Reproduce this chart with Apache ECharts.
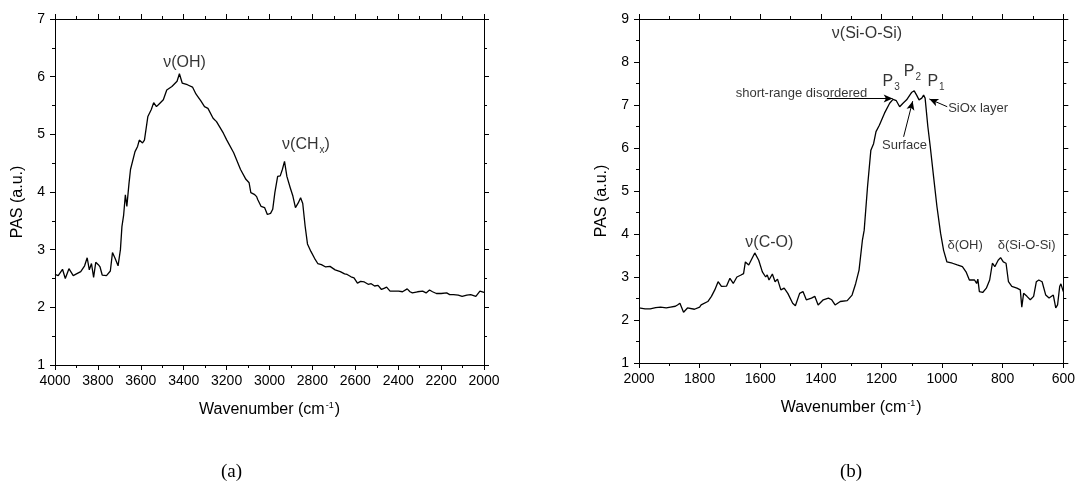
<!DOCTYPE html>
<html>
<head>
<meta charset="utf-8">
<script src="https://cdn.jsdelivr.net/npm/echarts/dist/echarts.min.js"></script>
<style>
html,body{margin:0;padding:0;background:#fff;}
#c{width:1078px;height:485px;}
</style>
</head>
<body>
<div id="c"></div>
<script>
// ---- Panel (a): 4000-2000 cm-1 ----
const wnA = [4000,3985,3965,3952,3935,3915,3900,3880,3862,3850,3840,3830,3820,3810,3798,3790,3780,3760,3742,3732,3720,3706,3695,3688,3680,3672,3665,3655,3648,3640,3627,3615,3607,3592,3583,3567,3551,3540,3527,3511,3495,3479,3455,3431,3420,3407,3383,3359,3343,3335,3320,3303,3287,3263,3247,3215,3199,3167,3135,3110,3095,3087,3071,3060,3055,3039,3023,3010,2995,2985,2975,2962,2950,2940,2930,2919,2903,2891,2879,2866,2855,2845,2834,2823,2807,2790,2775,2758,2738,2718,2694,2670,2650,2638,2620,2606,2590,2575,2558,2540,2526,2510,2494,2478,2466,2454,2438,2420,2398,2380,2358,2345,2334,2310,2286,2270,2254,2240,2222,2200,2174,2160,2142,2120,2102,2080,2062,2038,2019,2000];
const pasA = [2.57,2.55,2.66,2.50,2.67,2.55,2.58,2.62,2.72,2.86,2.65,2.76,2.52,2.78,2.74,2.70,2.56,2.55,2.63,2.95,2.85,2.72,3.00,3.40,3.60,3.95,3.75,4.15,4.39,4.36,4.70,4.79,4.90,4.85,4.90,5.31,5.43,5.55,5.48,5.54,5.60,5.77,5.83,5.92,6.05,5.89,5.86,5.82,5.70,5.66,5.58,5.48,5.45,5.28,5.22,5.02,4.90,4.68,4.39,4.22,4.16,3.99,3.96,3.92,3.87,3.75,3.73,3.61,3.63,3.70,3.99,4.27,4.28,4.39,4.53,4.27,4.07,3.93,3.73,3.81,3.90,3.80,3.41,3.10,2.97,2.85,2.76,2.74,2.70,2.71,2.65,2.62,2.58,2.57,2.53,2.51,2.42,2.45,2.44,2.40,2.41,2.37,2.38,2.31,2.33,2.35,2.28,2.28,2.28,2.27,2.32,2.27,2.25,2.27,2.28,2.25,2.30,2.27,2.24,2.24,2.25,2.22,2.22,2.21,2.19,2.21,2.22,2.19,2.28,2.26];

// ---- Panel (b): 2000-600 cm-1 ----
const wnB = [2000,1980,1963,1945,1929,1910,1896,1880,1873,1865,1853,1840,1817,1800,1795,1773,1761,1750,1739,1728,1711,1700,1689,1677,1665,1655,1649,1638,1628,1618,1605,1593,1582,1577,1571,1560,1551,1543,1532,1521,1509,1493,1484,1470,1459,1448,1431,1420,1409,1392,1375,1364,1353,1336,1313,1297,1285,1274,1263,1257,1246,1235,1226,1218,1207,1190,1173,1162,1151,1140,1129,1117,1101,1092,1084,1076,1067,1061,1056,1047,1039,1028,1017,1005,995,984,966,950,933,921,910,893,886,882,877,866,854,843,834,826,815,807,798,789,781,770,753,742,737,731,720,709,698,689,681,670,658,647,633,625,619,612,608,600];
const pasB = [2.28,2.26,2.26,2.29,2.30,2.28,2.30,2.32,2.35,2.39,2.18,2.28,2.25,2.30,2.35,2.43,2.55,2.70,2.89,2.78,2.79,2.97,2.85,3.00,3.04,3.08,3.35,3.28,3.42,3.56,3.39,3.12,3.00,3.05,2.93,3.07,2.89,2.95,2.70,2.74,2.62,2.39,2.33,2.62,2.66,2.47,2.51,2.55,2.35,2.47,2.51,2.47,2.35,2.43,2.45,2.58,2.85,3.16,3.85,4.09,5.10,5.95,6.10,6.38,6.53,6.81,7.04,7.13,7.10,6.96,7.04,7.12,7.29,7.33,7.23,7.12,7.16,7.23,7.16,6.50,6.03,5.33,4.64,4.02,3.62,3.35,3.32,3.28,3.24,3.12,2.93,2.93,2.85,2.95,2.66,2.64,2.74,2.93,3.32,3.24,3.39,3.45,3.35,3.32,2.89,2.78,2.74,2.70,2.30,2.62,2.55,2.47,2.55,2.89,2.93,2.89,2.58,2.51,2.58,2.28,2.35,2.78,2.84,2.66];

// ---- Axis ranges / ticks ----
const xRangeA = [2000, 4000];
const xRangeB = [600, 2000];
const yRangeA = [1, 7];
const yRangeB = [1, 9];
const xStep = 200;
const yStep = 1;

// ---- Annotations: [text, wavenumber, PAS, size] ----
const notesA = [
  ['ν(OH)', 3396, 6.24, 'big'],
  ['ν(CH{sub|x})', 2830, 4.83, 'big']
];
const notesB = [
  ['ν(Si-O-Si)', 1248, 8.67, 'big'],
  ['P{sub|3}', 1168, 7.55, 'big'],
  ['P{sub|2}', 1098, 7.78, 'big'],
  ['P{sub|1}', 1020, 7.55, 'big'],
  ['short-range disordered', 1464, 7.26, 'small'],
  ['SiOx layer', 881, 6.93, 'small'],
  ['Surface', 1124, 6.06, 'small'],
  ['ν(C-O)', 1570, 3.80, 'big'],
  ['δ(OH)', 924, 3.73, 'small'],
  ['δ(Si-O-Si)', 721, 3.73, 'small']
];
// arrows: [fromWn, fromPas, toWn, toPas]
const arrowsB = [
  [1380, 7.15, 1163, 7.15],
  [1127, 6.26, 1097, 7.09],
  [983, 6.96, 1042, 7.14]
];
const captions = ['(a)', '(b)'];

const FONT = '"Liberation Sans", Arial, sans-serif';
const rich = {
  big: {fontSize: 16, fontFamily: FONT, color: '#000', lineHeight: 22, verticalAlign: 'middle'},
  small: {fontSize: 13, fontFamily: FONT, color: '#000', lineHeight: 18},
  sub: {fontSize: 10, fontFamily: FONT, color: '#000', lineHeight: 22, verticalAlign: 'bottom', padding: [10, 0, 0, 1]},
  sup: {fontSize: 9, fontFamily: FONT, color: '#000', verticalAlign: 'top', padding: [0, 1, 8, 1]}
};
const plainNum = v => String(v);

function xAxisPair(gridIndex, range) {
  const common = {
    type: 'value', gridIndex: gridIndex, min: range[0], max: range[1], interval: xStep,
    inverse: true,
    axisLine: {show: true, onZero: false, lineStyle: {color: '#000', width: 1}},
    axisTick: {show: true, length: 5, lineStyle: {color: '#000'}},
    minorTick: {show: true, splitNumber: 2, length: 3, lineStyle: {color: '#000'}},
    splitLine: {show: false}, minorSplitLine: {show: false}
  };
  return [
    Object.assign({}, common, {
      position: 'bottom',
      axisLabel: {show: true, color: '#000', fontSize: 14, fontFamily: FONT, margin: 9, formatter: plainNum},
      name: 'Wavenumber (cm{sup|-1})', nameLocation: 'middle', nameGap: 36,
      nameTextStyle: {fontSize: 16, fontFamily: FONT, color: '#000', rich: rich}
    }),
    Object.assign({}, common, {position: 'top', axisLabel: {show: false}})
  ];
}
function yAxisPair(gridIndex, range) {
  const common = {
    type: 'value', gridIndex: gridIndex, min: range[0], max: range[1], interval: yStep,
    axisLine: {show: true, onZero: false, lineStyle: {color: '#000', width: 1}},
    axisTick: {show: true, length: 5, lineStyle: {color: '#000'}},
    minorTick: {show: true, splitNumber: 2, length: 3, lineStyle: {color: '#000'}},
    splitLine: {show: false}, minorSplitLine: {show: false}
  };
  return [
    Object.assign({}, common, {
      position: 'left',
      axisLabel: {show: true, color: '#000', fontSize: 14, fontFamily: FONT, margin: 10, formatter: plainNum},
      name: 'PAS (a.u.)', nameLocation: 'middle', nameGap: 29, nameRotate: 90,
      nameTextStyle: {fontSize: 16, fontFamily: FONT, color: '#000', padding: [0, 20, 0, 0]}
    }),
    Object.assign({}, common, {position: 'right', axisLabel: {show: false}})
  ];
}

function pairs(xs, ys) { return xs.map((x, i) => [x, ys[i]]); }

function noteSeries(notes, xi, yi) {
  return {
    type: 'scatter', xAxisIndex: xi, yAxisIndex: yi, symbolSize: 0, silent: true,
    data: notes.map(n => ({value: [n[1], n[2]], name: n[0], style: n[3]})),
    label: {
      show: true, position: 'inside', align: 'center', verticalAlign: 'middle', color: '#000',
      formatter: p => '{' + p.data.style + '|' + p.data.name.replace(/\{(sub|sup)\|([^}]*)\}/g, '}{$1|$2}{' + p.data.style + '|') + '}',
      rich: rich
    },
    z: 5
  };
}

const chart = echarts.init(document.getElementById('c'), null, {renderer: 'canvas'});
const option = {
  backgroundColor: '#fff',
  animation: false,
  grid: [
    {left: 55, top: 19, width: 429, height: 346, containLabel: false},
    {left: 639, top: 19, width: 428, height: 344, containLabel: false}
  ],
  xAxis: [].concat(xAxisPair(0, xRangeA), xAxisPair(1, xRangeB)),
  yAxis: [].concat(yAxisPair(0, yRangeA), yAxisPair(1, yRangeB)),
  series: [
    {type: 'line', xAxisIndex: 0, yAxisIndex: 0, data: pairs(wnA, pasA), showSymbol: false,
     lineStyle: {color: '#000', width: 1.3}, silent: true},
    {type: 'line', xAxisIndex: 2, yAxisIndex: 2, data: pairs(wnB, pasB), showSymbol: false,
     lineStyle: {color: '#000', width: 1.3}, silent: true,
     markLine: {
       silent: true, symbol: ['none', 'arrow'], symbolSize: 8,
       label: {show: false},
       itemStyle: {color: '#000'},
       lineStyle: {color: '#000', width: 1, type: 'solid'},
       emphasis: {disabled: true},
       data: arrowsB.map(a => [
         {coord: [a[0], a[1]], symbol: 'none'},
         {coord: [a[2], a[3]], symbol: 'arrow', symbolSize: [6, 9], itemStyle: {color: '#000'}}
       ])
     }},
    noteSeries(notesA, 0, 0),
    noteSeries(notesB, 2, 2)
  ],
  graphic: [
    {type: 'text', left: 221, top: 463, style: {text: captions[0], font: '19px "Liberation Serif", "Times New Roman", serif', fill: '#000'}},
    {type: 'text', left: 840, top: 463, style: {text: captions[1], font: '19px "Liberation Serif", "Times New Roman", serif', fill: '#000'}}
  ]
};
chart.setOption(option);
</script>
</body>
</html>
